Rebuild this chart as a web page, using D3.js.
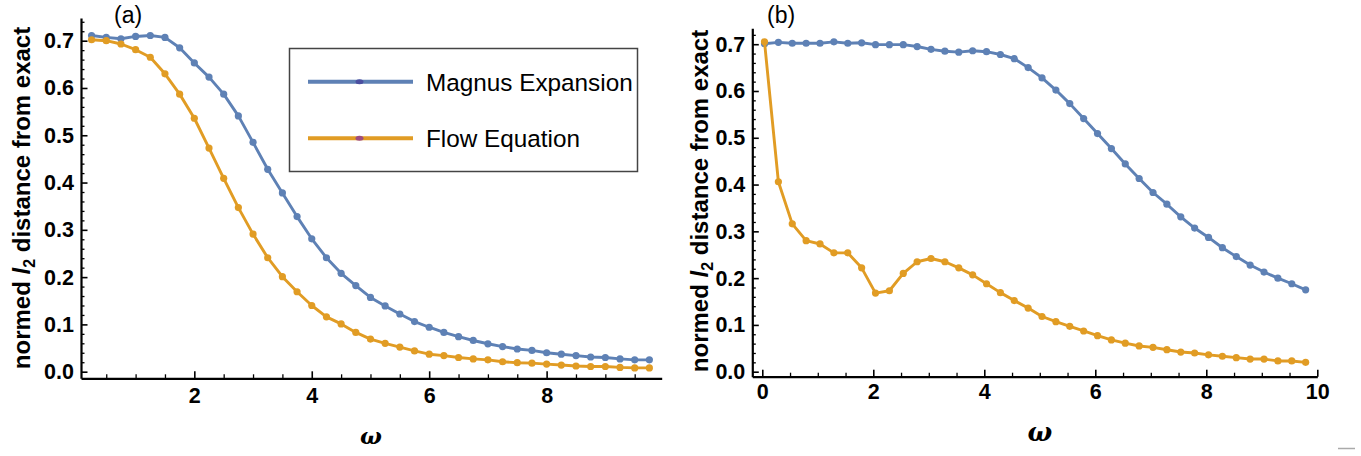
<!DOCTYPE html>
<html>
<head>
<meta charset="utf-8">
<script src="https://cdn.jsdelivr.net/npm/d3@7"></script>
<style>
  html, body { margin: 0; padding: 0; background: #fff; }
  svg { display: block; font-family: "Liberation Sans", Arial, sans-serif; }
</style>
</head>
<body>
<svg id="chart" width="1361" height="456"></svg>
<script>
// ---------- data ----------
const omegaA = [0.25,0.5,0.75,1.0,1.25,1.5,1.75,2.0,2.25,2.5,2.75,3.0,3.25,3.5,3.75,4.0,4.25,4.5,4.75,5.0,
                5.25,5.5,5.75,6.0,6.25,6.5,6.75,7.0,7.25,7.5,7.75,8.0,8.25,8.5,8.75,9.0,9.25,9.5,9.75];
const magnusA = [0.711,0.707,0.704,0.709,0.711,0.707,0.685,0.653,0.623,0.587,0.541,0.485,0.428,0.378,0.328,0.281,0.241,0.208,0.182,0.157,
                 0.139,0.122,0.106,0.094,0.083,0.074,0.066,0.059,0.053,0.048,0.045,0.040,0.037,0.034,0.031,0.030,0.027,0.025,0.025];
const flowA = [0.702,0.700,0.693,0.681,0.665,0.630,0.587,0.536,0.473,0.409,0.347,0.291,0.241,0.201,0.169,0.140,0.116,0.101,0.083,0.069,
               0.060,0.052,0.044,0.037,0.034,0.030,0.027,0.025,0.021,0.019,0.018,0.016,0.014,0.012,0.011,0.011,0.009,0.008,0.008];

const omegaB = [0.04,0.29,0.54,0.79,1.04,1.29,1.54,1.79,2.04,2.29,2.54,2.79,3.04,3.29,3.54,3.79,4.04,4.29,4.54,4.79,
                5.04,5.29,5.54,5.79,6.04,6.29,6.54,6.79,7.04,7.29,7.54,7.79,8.04,8.29,8.54,8.79,9.04,9.29,9.54,9.79];
const magnusB = [0.701,0.704,0.702,0.702,0.702,0.705,0.702,0.703,0.699,0.699,0.699,0.695,0.689,0.685,0.683,0.686,0.684,0.678,0.669,0.650,
                 0.628,0.602,0.573,0.541,0.509,0.477,0.444,0.413,0.383,0.358,0.331,0.307,0.287,0.265,0.246,0.228,0.213,0.200,0.188,0.175];
const flowB = [0.705,0.406,0.316,0.280,0.273,0.254,0.254,0.222,0.168,0.173,0.210,0.235,0.242,0.235,0.222,0.207,0.188,0.169,0.152,0.136,
               0.118,0.107,0.097,0.087,0.077,0.068,0.061,0.055,0.052,0.047,0.042,0.040,0.036,0.033,0.030,0.027,0.027,0.023,0.023,0.020];

const yTickValues = [0.0,0.1,0.2,0.3,0.4,0.5,0.6,0.7];
const xTicksA = [2,4,6,8];
const xTicksB = [0,2,4,6,8,10];
const seriesNames = ["Magnus Expansion","Flow Equation"];
const panelLabels = ["(a)","(b)"];
const yTitle = ["normed ", "l", "2", " distance from exact"];

// ---------- styling ----------
const BLUE = "#5E81B5", ORANGE = "#E19C24";
const svg = d3.select("#chart");

function panel(cfg) {
  const g = svg.append("g");
  const x = d3.scaleLinear().domain(cfg.xDom).range(cfg.xRange);
  const y = d3.scaleLinear().domain(cfg.yDom).range(cfg.yRange);
  const x0 = cfg.xRange[0], yb = cfg.yRange[0];

  // minor y ticks
  const yMinor = d3.range(0, cfg.yDom[1] + 1e-9, 0.02).filter(v => Math.abs(v*10 - Math.round(v*10)) > 1e-6);
  g.append("g").attr("transform", `translate(${x0},0)`)
    .call(d3.axisLeft(y).tickValues(yMinor).tickSize(-3.5).tickSizeOuter(0).tickFormat(""))
    .call(a => a.select(".domain").remove())
    .selectAll("line").attr("stroke", "#000").attr("stroke-width", 1.3);
  // major y ticks
  const ya = g.append("g").attr("transform", `translate(${x0},0)`)
    .call(d3.axisLeft(y).tickValues(yTickValues).tickSize(-6.5).tickSizeOuter(0).tickPadding(7).tickFormat(d3.format(".1f")));
  ya.select(".domain").attr("stroke", "#000").attr("stroke-width", 2.2);
  ya.selectAll("line").attr("stroke", "#000").attr("stroke-width", 1.6);
  ya.selectAll("text").attr("font-size", 21.5).attr("font-weight", "bold").attr("fill", "#000")
    .attr("font-family", "Liberation Sans, Arial, sans-serif");

  // minor x ticks
  const xMinor = d3.range(0, 10.01, 0.5).filter(v => v % 2 !== 0 && v >= cfg.xDom[0] && v <= cfg.xDom[1]);
  g.append("g").attr("transform", `translate(0,${yb})`)
    .call(d3.axisBottom(x).tickValues(xMinor).tickSize(-4).tickSizeOuter(0).tickFormat(""))
    .call(a => a.select(".domain").remove())
    .selectAll("line").attr("stroke", "#000").attr("stroke-width", 1.3);
  const xa = g.append("g").attr("transform", `translate(0,${yb})`)
    .call(d3.axisBottom(x).tickValues(cfg.xTicks).tickSize(-7).tickSizeOuter(0).tickPadding(cfg.xPad).tickFormat(d3.format("d")));
  xa.select(".domain").attr("stroke", "#000").attr("stroke-width", 2.2);
  xa.selectAll("line").attr("stroke", "#000").attr("stroke-width", 1.6);
  xa.selectAll("text").attr("font-size", 21.5).attr("font-weight", "bold").attr("fill", "#000")
    .attr("font-family", "Liberation Sans, Arial, sans-serif");

  // series
  const series = [
    {xs: cfg.omega, ys: cfg.magnus, color: BLUE},
    {xs: cfg.omega, ys: cfg.flow, color: ORANGE}
  ];
  const line = d3.line().x(d => x(d[0])).y(d => y(d[1]));
  series.forEach(s => {
    const pts = s.xs.map((v, i) => [v, s.ys[i]]);
    g.append("path").attr("d", line(pts)).attr("fill", "none")
      .attr("stroke", s.color).attr("stroke-width", 2.9).attr("stroke-linejoin", "round");
    g.append("g").selectAll("circle").data(pts).join("circle")
      .attr("cx", d => x(d[0])).attr("cy", d => y(d[1])).attr("r", 3.6).attr("fill", s.color);
  });

  // panel label
  g.append("text").attr("x", cfg.labelX).attr("y", 23).attr("font-size", 23)
    .attr("font-family", "Liberation Sans, Arial, sans-serif").attr("fill", "#000").text(cfg.label);

  // y title
  const t = g.append("text").attr("transform", `translate(${cfg.titleX},${cfg.titleY}) rotate(-90)`)
    .attr("text-anchor", "middle").attr("font-size", 24).attr("font-weight", "bold").attr("fill", "#000");
  t.append("tspan").text(yTitle[0]);
  t.append("tspan").attr("font-style", "italic").text(yTitle[1]);
  t.append("tspan").attr("font-size", 16).attr("dy", 5).text(yTitle[2]);
  t.append("tspan").attr("dy", -5).text(yTitle[3]);

  // x title
  g.append("text").attr("x", cfg.omegaX).attr("y", cfg.omegaY).attr("text-anchor", "middle")
    .attr("font-size", cfg.omegaSize).attr("font-weight", "bold").attr("font-style", "italic")
    .attr("font-family", "DejaVu Serif, serif").attr("fill", "#000").text("ω");
  return {x, y};
}

panel({
  xDom: [0.07, 9.96], xRange: [81, 661.7],
  yDom: [-0.014, 0.748], yRange: [378.3, 18],
  xTicks: xTicksA, xPad: 9,
  omega: omegaA, magnus: magnusA, flow: flowA,
  label: panelLabels[0], labelX: 114,
  titleX: 30, titleY: 198,
  omegaX: 371, omegaY: 444, omegaSize: 23
});
panel({
  xDom: [-0.18, 10], xRange: [752.3, 1317.3],
  yDom: [-0.0107, 0.734], yRange: [376.7, 28.3],
  xTicks: xTicksB, xPad: 7,
  omega: omegaB, magnus: magnusB, flow: flowB,
  label: panelLabels[1], labelX: 767,
  titleX: 708, titleY: 201,
  omegaX: 1040, omegaY: 441, omegaSize: 26
});

// legend
const lg = svg.append("g");
lg.append("rect").attr("x", 289.5).attr("y", 48.5).attr("width", 348).attr("height", 123)
  .attr("fill", "#fff").attr("stroke", "#444").attr("stroke-width", 1.5);
const legendItems = [
  {name: seriesNames[0], color: BLUE, dot: "#4B4FA0", y: 81.7},
  {name: seriesNames[1], color: ORANGE, dot: "#9E4C80", y: 138.3}
];
legendItems.forEach(it => {
  lg.append("line").attr("x1", 308).attr("x2", 413).attr("y1", it.y).attr("y2", it.y)
    .attr("stroke", it.color).attr("stroke-width", 4);
  lg.append("ellipse").attr("cx", 359.5).attr("cy", it.y).attr("rx", 4).attr("ry", 2.5).attr("fill", it.dot);
  lg.append("text").attr("x", 426).attr("y", it.y + 9).attr("font-size", 24.3)
    .attr("font-family", "Liberation Sans, Arial, sans-serif").attr("fill", "#000").text(it.name);
});

// small grey mark bottom right
svg.append("line").attr("x1", 1338).attr("x2", 1355).attr("y1", 448.5).attr("y2", 448.5)
  .attr("stroke", "#aaa").attr("stroke-width", 1.5);
</script>
</body>
</html>
